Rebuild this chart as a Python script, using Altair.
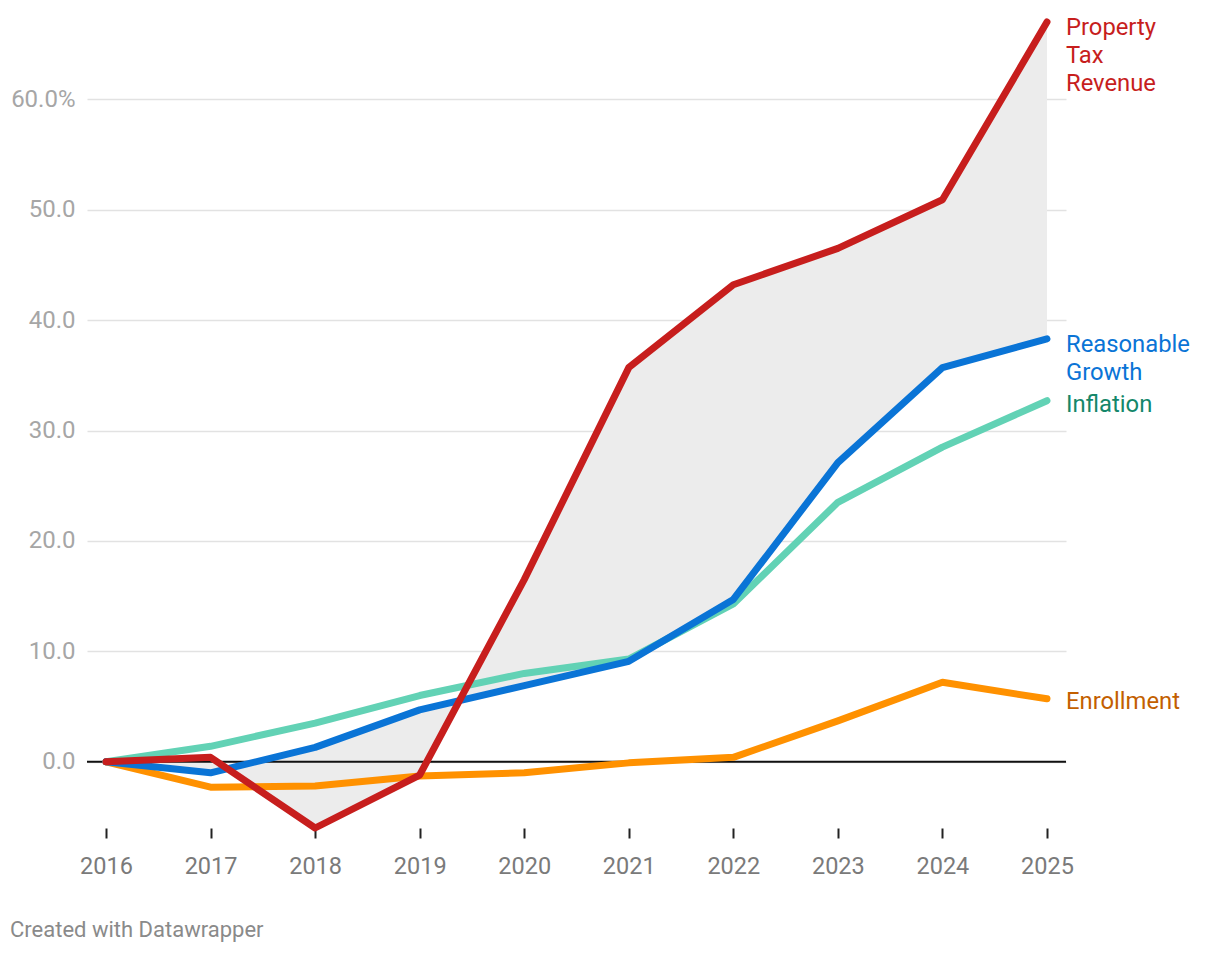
import altair as alt
import pandas as pd

years = [2016, 2017, 2018, 2019, 2020, 2021, 2022, 2023, 2024, 2025]
property_tax = [0.0, 0.4, -6.0, -1.2, 16.5, 35.7, 43.2, 46.5, 50.9, 67.0]
reasonable_growth = [0.0, -1.0, 1.3, 4.7, 6.9, 9.1, 14.7, 27.1, 35.7, 38.3]
inflation = [0.0, 1.4, 3.5, 6.0, 8.0, 9.3, 14.3, 23.5, 28.5, 32.7]
enrollment = [0.0, -2.3, -2.2, -1.3, -1.0, -0.1, 0.4, 3.7, 7.2, 5.7]
y_ticks = [0, 10, 20, 30, 40, 50, 60]

# drawing order: bottom -> top
series = [
    ("Inflation", inflation, "#62d2b5", "#14876a", ["Inflation"], 11),
    ("Enrollment", enrollment, "#ff9100", "#c35f00", ["Enrollment"], 10),
    ("Reasonable Growth", reasonable_growth, "#0a74d6", "#0a74d6", ["Reasonable", "Growth"], 13),
    ("Property Tax Revenue", property_tax, "#c71e1d", "#c71e1d", ["Property", "Tax", "Revenue"], 13),
]

FONT = "Roboto"
X_DOMAIN = [2015.818, 2025.182]
Y_DOMAIN = [-6, 68]

x_enc = alt.X(
    "year:Q",
    scale=alt.Scale(domain=X_DOMAIN, nice=False, zero=False),
    axis=alt.Axis(
        values=years, format="d", title=None, grid=False, domain=False,
        ticks=True, tickSize=10, tickWidth=2, tickColor="#222222",
        labelFontSize=23.5, labelColor="#7a7a7a", labelPadding=16, labelFont=FONT,
    ),
)


def y_enc(field):
    return alt.Y(
        field,
        scale=alt.Scale(domain=Y_DOMAIN, nice=False, zero=False),
        axis=alt.Axis(
            values=y_ticks, title=None, grid=True, gridColor="#e2e2e2", gridWidth=1.5,
            domain=False, ticks=False, labelFontSize=24, labelColor="#a6a6a6",
            labelPadding=12, labelFont=FONT, labelBaseline="middle",
            labelExpr="datum.value == 60 ? format(datum.value, '.1f') + '%' : format(datum.value, '.1f')",
        ),
    )


wide = pd.DataFrame({"year": years, "property": property_tax, "growth": reasonable_growth})

area = alt.Chart(wide).mark_area(color="#ececec", opacity=1).encode(
    x=x_enc, y=y_enc("property:Q"), y2="growth:Q"
)

zero_rule = alt.Chart(pd.DataFrame({"v": [0]})).mark_rule(color="#111111", strokeWidth=2).encode(
    y=alt.datum(0)
)

layers = [area, zero_rule]
for name, vals, color, tcolor, lines, dy in series:
    df = pd.DataFrame({"year": years, "value": vals, "series": name})
    layers.append(
        alt.Chart(df).mark_line(
            color=color, strokeWidth=7, strokeCap="round", strokeJoin="round"
        ).encode(x=x_enc, y=y_enc("value:Q"))
    )

for name, vals, color, tcolor, lines, dy in series:
    df = pd.DataFrame({"year": [years[-1]], "value": [vals[-1]]})
    layers.append(
        alt.Chart(df).mark_text(
            text=lines, align="left", baseline="alphabetic", dx=19, dy=dy,
            fontSize=23.8, lineHeight=28, font=FONT, color=tcolor, fontWeight="normal",
        ).encode(x=x_enc, y=y_enc("value:Q"))
    )

credit = alt.Chart(pd.DataFrame({"note": ["Created with Datawrapper"]})).mark_text(
    align="left", baseline="alphabetic",
    fontSize=22, font=FONT, color="#8a8a8a", fontWeight="normal",
).encode(x=alt.value(-77), y=alt.value(926), text="note:N")
layers.append(credit)

chart = alt.layer(*layers).properties(
    width=979, height=817,
    autosize=alt.AutoSizeParams(type="none"),
    padding={"left": 87, "top": 11, "right": 154, "bottom": 126},
    background="white",
).configure_view(stroke=None)

chart.save("out.html", embed_options={"renderer": "svg", "actions": False})
